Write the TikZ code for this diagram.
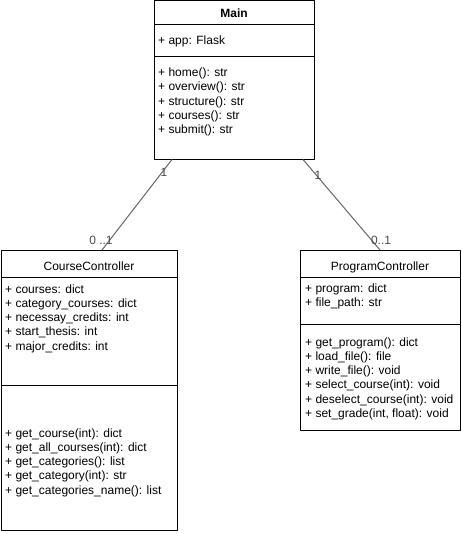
\documentclass[tikz,border=0pt]{standalone}
\usepackage{fontspec}
\setmainfont{Liberation Sans}
\begin{document}
\begin{tikzpicture}[x=1pt, y=-1pt, line join=round, font=\fontsize{12}{14.4}\selectfont]
	\tikzset{
		classbox/.style={draw, line width=1pt, anchor=north west, inner sep=0pt, outer sep=0pt},
		member/.style={anchor=base west, inner sep=0pt},
		assoc/.style={draw=black!60, line width=1pt},
		mult/.style={text=black!70, inner sep=0pt}
	}
	\useasboundingbox (0,0) rectangle (461,534);
	% Main
	\node[classbox, minimum width=160pt, minimum height=159pt] (main) at (154,0.5) {};
	\draw[line width=1pt] (154,25) -- (314,25) (154,57) -- (314,57);
	\node[anchor=base, font=\fontsize{12}{14.4}\selectfont\bfseries, inner sep=0pt] (mainname) at (234,18) {Main};
	\node[member] (mainattr) at (158,45) {+ app: Flask};
	\foreach \op [count=\i] in {home(): str, overview(): str, structure(): str, courses(): str, submit(): str}
		\node[member] (mainop\i) at (158,{62.2+14.3*\i}) {+ \op};
	% CourseController
	\node[classbox, minimum width=176pt, minimum height=280pt] (course) at (1,250) {};
	\draw[line width=1pt] (1,277) -- (177,277) (1,385) -- (177,385);
	\node[anchor=base, inner sep=0pt] (coursename) at (89,270) {CourseController};
	\foreach \at [count=\i] in {courses: dict, category\_courses: dict, necessay\_credits: int, start\_thesis: int, major\_credits: int}
		\node[member] (courseattr\i) at (5,{278.7+14.3*\i}) {+ \at};
	\foreach \op [count=\i] in {get\_course(int): dict, get\_all\_courses(int): dict, get\_categories(): list, get\_category(int): str, get\_categories\_name(): list}
		\node[member] (courseop\i) at (5,{422.7+14.3*\i}) {+ \op};
	% ProgramController
	\node[classbox, minimum width=160pt, minimum height=180pt] (program) at (300,250) {};
	\draw[line width=1pt] (300,277) -- (460,277) (300,324) -- (460,324);
	\node[anchor=base, inner sep=0pt] (programname) at (380,270) {ProgramController};
	\foreach \at [count=\i] in {program: dict, file\_path: str}
		\node[member] (programattr\i) at (305,{278+14.3*\i}) {+ \at};
	\foreach \op [count=\i] in {get\_program(): dict, load\_file(): file, write\_file(): void, select\_course(int): void, deselect\_course(int): void, {set\_grade(int, float): void}}
		\node[member] (programop\i) at (305,{331.7+14.3*\i}) {+ \op};
	% associations
	\draw[assoc] ([xshift=18pt]main.south west) -- ([xshift=101pt]course.north west);
	\draw[assoc] ([xshift=-11pt]main.south east) -- ([xshift=80pt]program.north west);
	\node[mult] (multA) at (164,172) {1};
	\node[mult] (multB) at (101,240) {0 ..1};
	\node[mult] (multC) at (318,175) {1};
	\node[mult] (multD) at (381,240) {0..1};
\end{tikzpicture}
\end{document}
